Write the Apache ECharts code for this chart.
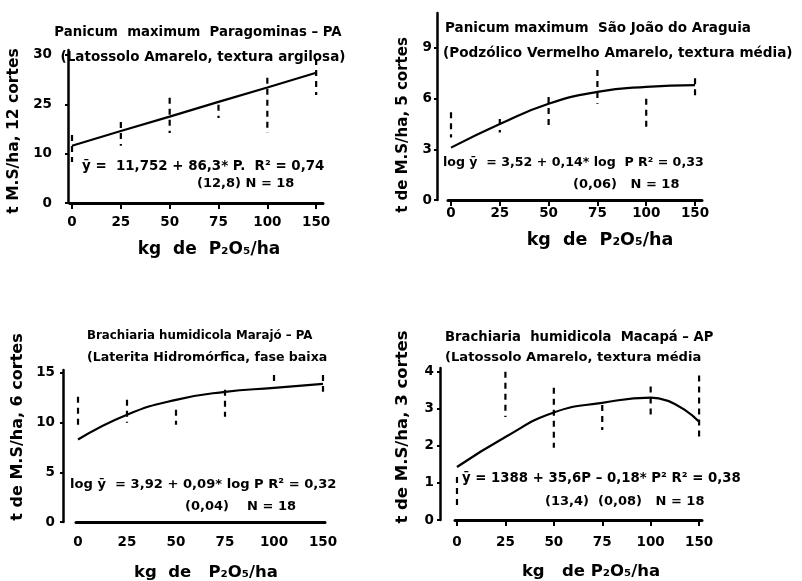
<!DOCTYPE html>
<html>
<head>
<meta charset="utf-8">
<script src="https://cdn.jsdelivr.net/npm/echarts@6/dist/echarts.min.js"></script>
<style>
  html, body { margin: 0; padding: 0; background: #fff; }
  #main { width: 802px; height: 581px; }
</style>
</head>
<body>
<div id="main"></div>
<script>
// doses de P2O5 (eixo x, espaçados igualmente)
const doses = ['0', '25', '50', '75', '100', '150']
const doseIdx = [0, 1, 2, 3, 4, 5]

// Panicum maximum Paragominas - PA
const p1Low = [8.3, 11.6, 14.2, 17.2, 14.2, 21.9]
const p1High = [13.8, 16.4, 21.3, 19.9, 25.4, 29.2]
const p1Fit = [11.6, 14.6, 17.5, 20.5, 23.4, 26.4]
const p1YTicks = [0, 10, 20, 30]
const p1YLabels = ['0', '10', '25', '30']

// Panicum maximum São João do Araguia
const p2Low = [3.7, 4.0, 4.3, 5.7, 4.3, 5.9]
const p2High = [5.2, 4.8, 6.1, 7.7, 6.0, 7.2]
const p2Fit = [3.1, 4.5, 5.7, 6.4, 6.7, 6.8]
const p2YTicks = [0, 3, 6, 9]

// Brachiaria humidicola Marajó - PA
const p3Low = [9.3, 10.0, 9.8, 10.6, 13.8, 13.1]
const p3High = [12.6, 12.3, 11.3, 13.3, 14.8, 14.8]
const p3Fit = [8.3, 10.8, 12.3, 13.1, 13.5, 13.9]
const p3YTicks = [0, 5, 10, 15]

// Brachiaria humidicola Macapá - AP
const p4Low = [0.4, 2.78, 1.95, 2.43, 2.76, 2.16]
const p4High = [1.16, 4.0, 3.57, 3.1, 3.6, 3.9]
const p4Fit = [1.43, 2.24, 2.9, 3.16, 3.3, 2.65]
const p4YTicks = [0, 1, 2, 3, 4]

const FONT = '"DejaVu Sans", sans-serif'
const BLACK = '#000'

let chart = echarts.init(document.getElementById('main'), null, { renderer: 'canvas' })

let grids = []
let xAxes = []
let yAxes = []
let series = []

function addPanel (p) {
  let i = grids.length
  grids.push({ left: p.left, top: p.top, width: p.width, height: p.height })
  xAxes.push({
    gridIndex: i,
    type: 'value',
    min: p.xMin,
    max: p.xMax,
    axisLine: { onZero: false, lineStyle: { color: BLACK, width: 3 } },
    axisTick: {
      show: p.xTicks,
      customValues: doseIdx,
      length: 6,
      lineStyle: { color: BLACK, width: 2 }
    },
    axisLabel: {
      customValues: doseIdx,
      formatter: (v) => doses[v],
      margin: p.xLabelMargin,
      color: BLACK,
      fontFamily: FONT,
      fontWeight: 'bold',
      fontSize: 13.5
    },
    splitLine: { show: false }
  })
  yAxes.push({
    gridIndex: i,
    type: 'value',
    min: 0,
    max: p.yMax,
    offset: p.yOffset,
    axisLine: { show: true, onZero: false, lineStyle: { color: BLACK, width: 2.5 } },
    axisTick: {
      show: true,
      customValues: p.yTicks,
      length: 3,
      lineStyle: { color: BLACK, width: 2 }
    },
    axisLabel: {
      customValues: p.yTicks,
      formatter: (v) => p.yLabels ? p.yLabels[p.yTicks.indexOf(v)] : String(v),
      margin: p.yLabelMargin,
      color: BLACK,
      fontFamily: FONT,
      fontWeight: 'bold',
      fontSize: 13.5
    },
    splitLine: { show: false }
  })
  // faixas das repetições (traços verticais)
  series.push({
    type: 'custom',
    xAxisIndex: i,
    yAxisIndex: i,
    data: doseIdx.map((d, k) => [d, p.low[k], p.high[k]]),
    encode: { x: 0, y: [1, 2] },
    renderItem: (params, api) => {
      let a = api.coord([api.value(0), api.value(2)])
      let b = api.coord([api.value(0), api.value(1)])
      return {
        type: 'line',
        shape: { x1: a[0], y1: a[1], x2: b[0], y2: b[1] },
        style: { stroke: BLACK, lineWidth: 2.2, lineDash: [6, 5] }
      }
    }
  })
  // curva ajustada
  series.push({
    type: 'line',
    xAxisIndex: i,
    yAxisIndex: i,
    data: doseIdx.map((d, k) => [d, p.fit[k]]),
    smooth: p.smooth,
    showSymbol: false,
    lineStyle: { color: BLACK, width: 2.2 }
  })
}

addPanel({
  left: 70, top: 50, width: 253, height: 153,
  xMin: -0.041, xMax: 5.14, yMax: 31, yOffset: 2,
  xTicks: true, xLabelMargin: 12, yLabelMargin: 16,
  yTicks: p1YTicks, yLabels: p1YLabels,
  low: p1Low, high: p1High, fit: p1Fit, smooth: false
})
addPanel({
  left: 448, top: 13, width: 254, height: 187,
  xMin: -0.0615, xMax: 5.143, yMax: 11.07, yOffset: 11,
  xTicks: true, xLabelMargin: 6, yLabelMargin: 5,
  yTicks: p2YTicks,
  low: p2Low, high: p2High, fit: p2Fit, smooth: true
})
addPanel({
  left: 76, top: 370, width: 249, height: 152,
  xMin: -0.041, xMax: 5.041, yMax: 15.3, yOffset: 13,
  xTicks: false, xLabelMargin: 13, yLabelMargin: 8,
  yTicks: p3YTicks,
  low: p3Low, high: p3High, fit: p3Fit, smooth: true
})
addPanel({
  left: 455, top: 368, width: 247, height: 152,
  xMin: -0.041, xMax: 5.06, yMax: 4.1, yOffset: 15,
  xTicks: true, xLabelMargin: 15, yLabelMargin: 6,
  yTicks: p4YTicks,
  low: p4Low, high: p4High, fit: p4Fit, smooth: true
})

function txt (x, y, text, size, align, rotate) {
  return {
    type: 'text',
    x: x,
    y: y,
    rotation: rotate ? Math.PI / 2 : 0,
    style: {
      text: text,
      fill: BLACK,
      fontFamily: FONT,
      fontWeight: 'bold',
      fontSize: size,
      align: align || 'left',
      verticalAlign: 'middle'
    }
  }
}

let graphics = [
  // titulos
  txt(198, 33, 'Panicum  maximum  Paragominas – PA', 13.3, 'center'),
  txt(203, 57, '(Latossolo Amarelo, textura argilosa)', 13.5, 'center'),
  txt(445, 28, 'Panicum maximum  São João do Araguia', 13.5),
  txt(443, 53, '(Podzólico Vermelho Amarelo, textura média)', 13.6),
  txt(87, 336, 'Brachiaria humidicola Marajó – PA', 11.8),
  txt(87, 358, '(Laterita Hidromórfica, fase baixa', 12.6),
  txt(445, 338, 'Brachiaria  humidicola  Macapá – AP', 13.2),
  txt(445, 358, '(Latossolo Amarelo, textura média', 13.1),
  // equacoes
  txt(82, 167, 'ȳ =  11,752 + 86,3* P.  R² = 0,74', 13.4),
  txt(197, 184, '(12,8) N = 18', 13),
  txt(443, 163, 'log ȳ  = 3,52 + 0,14* log  P R² = 0,33', 12.6),
  txt(573, 185, '(0,06)   N = 18', 13),
  txt(70, 485, 'log ȳ  = 3,92 + 0,09* log P R² = 0,32', 13.1),
  txt(185, 507, '(0,04)    N = 18', 13),
  txt(462, 479, 'ȳ = 1388 + 35,6P – 0,18* P² R² = 0,38', 13.3),
  txt(545, 502, '(13,4)  (0,08)   N = 18', 13),
  // nomes dos eixos
  txt(209, 250, 'kg  de  P₂O₅/ha', 17, 'center'),
  txt(600, 240, 'kg  de  P₂O₅/ha', 17.5, 'center'),
  txt(206, 573, 'kg  de   P₂O₅/ha', 16.5, 'center'),
  txt(591, 572, 'kg   de P₂O₅/ha', 16.5, 'center'),
  txt(14, 131, 't M.S/ha, 12 cortes', 15.5, 'center', true),
  txt(403, 125, 't de M.S/ha, 5 cortes', 15, 'center', true),
  txt(18, 427, 't de M.S/ha, 6 cortes', 16, 'center', true),
  txt(403, 427, 't de M.S/ha, 3 cortes', 16.5, 'center', true)
]

let option = {
  animation: false,
  backgroundColor: '#fff',
  grid: grids,
  xAxis: xAxes,
  yAxis: yAxes,
  series: series,
  graphic: graphics
}

chart.setOption(option)
</script>
</body>
</html>
